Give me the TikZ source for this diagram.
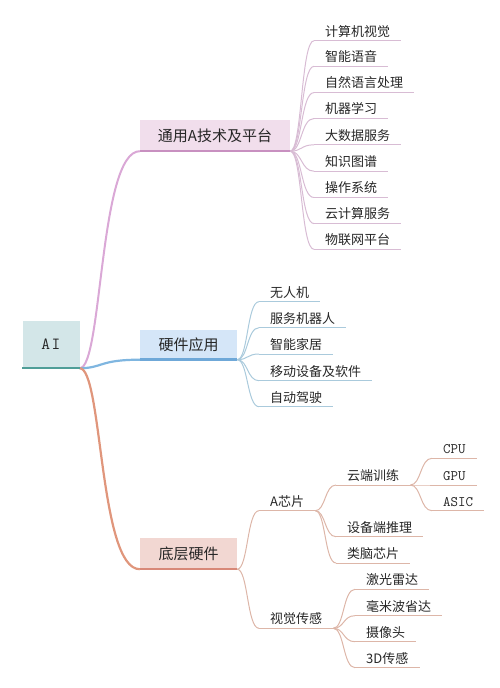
\documentclass[tikz,border=0pt]{standalone}
\usepackage{fontspec}
\newfontfamily\cjk{Noto Sans CJK SC}
\usetikzlibrary{calc}
\definecolor{txt}{HTML}{262626}
\definecolor{aifill}{HTML}{D3E6E8}
\definecolor{ailine}{HTML}{4F9E98}
\definecolor{pfill}{HTML}{F1DEEC}
\definecolor{pline}{HTML}{C890C0}
\definecolor{pmain}{HTML}{DAA8D6}
\definecolor{pleaf}{HTML}{D8BCD4}
\definecolor{bfill}{HTML}{D5E6F8}
\definecolor{bline}{HTML}{6FA8D8}
\definecolor{bmain}{HTML}{7FB6E0}
\definecolor{bleaf}{HTML}{AACADC}
\definecolor{sfill}{HTML}{F2D7D2}
\definecolor{sline}{HTML}{D88878}
\definecolor{smain}{HTML}{E0967C}
\definecolor{sleaf}{HTML}{DDB6A8}
\tikzset{
  leaf/.style={anchor=south west, inner xsep=11pt, inner ysep=0pt,
    text height=10pt, text depth=4.5pt, text=txt,
    font=\cjk\fontsize{13}{13}\selectfont},
  monoleaf/.style={leaf, font=\ttfamily\fontsize{14.5}{14.5}\selectfont},
  branch/.style={inner sep=0pt, text=txt, font=\cjk\fontsize{15}{15}\selectfont},
  fancurve/.style={to path={let \p1=(\tikztostart), \p2=(\tikztotarget) in
    (\p1) .. controls ({\x1+0.5*(\x2-\x1)},\y1) and ({\x1+0.45*(\x2-\x1)},\y2) .. (\p2)}},
  maincurve/.style={to path={let \p1=(\tikztostart), \p2=(\tikztotarget) in
    (\p1) .. controls ({\x1+0.38*(\x2-\x1)},\y1) and ({\x1+0.32*(\x2-\x1)},\y2) .. (\p2)}},
}
\begin{document}
\begin{tikzpicture}[x=1pt,y=-1pt]
\useasboundingbox (0,0) rectangle (500,688);
% root
\node[inner sep=0pt, fill=aifill, minimum width=57pt, minimum height=47pt, text=txt,
  font=\ttfamily\fontsize{17}{17}\selectfont] (ai) at (51,344.5) {A\hspace{1.5pt}I};
% branches
\node[branch, fill=pfill, minimum width=150pt, minimum height=31pt] (b1) at (215,135.5) {通用A技术及平台};
\node[branch, fill=bfill, minimum width=97pt, minimum height=30pt] (b2) at (188.5,344.5) {硬件应用};
\node[branch, fill=sfill, minimum width=97pt, minimum height=31pt] (b3) at (188.5,553.5) {底层硬件};
% main curves
\draw[pmain, line width=2pt] (ai.south east) to[maincurve] (b1.south west);
\draw[bmain, line width=2.2pt] (ai.south east) to[maincurve] (b2.south west);
\draw[smain, line width=2.2pt] (ai.south east) to[maincurve] (b3.south west);
\draw[ailine, line width=2.5pt] (ai.south west) -- (ai.south east);
\draw[pline, line width=2.5pt] (b1.south west) -- (b1.south east);
\draw[bline, line width=2.5pt] (b2.south west) -- (b2.south east);
\draw[sline, line width=2.5pt] (b3.south west) -- (b3.south east);
% branch 1 leaves
\node[leaf] (p1) at (314,40.7) {计算机视觉};
\node[leaf] (p2) at (314,66.3) {智能语音};
\node[leaf] (p3) at (314,92.6) {自然语言处理};
\node[leaf] (p4) at (314,118.5) {机器学习};
\node[leaf] (p5) at (314,144.8) {大数据服务};
\node[leaf] (p6) at (314,171.2) {知识图谱};
\node[leaf] (p7) at (314,197.5) {操作系统};
\node[leaf] (p8) at (314,223.6) {云计算服务};
\node[leaf] (p9) at (314,249.3) {物联网平台};
\foreach \k in {p1,p2,p3,p4,p5,p6,p7,p8,p9}{
  \draw[pleaf, line width=1pt] (b1.south east) to[fancurve] (\k.south west);
  \draw[pleaf, line width=1pt] (\k.south west) -- (\k.south east);
}
% branch 2 leaves
\node[leaf] (q1) at (259,301.7) {无人机};
\node[leaf] (q2) at (259,327.7) {服务机器人};
\node[leaf] (q3) at (259,354) {智能家居};
\node[leaf] (q4) at (259,380.7) {移动设备及软件};
\node[leaf] (q5) at (259,406.7) {自动驾驶};
\foreach \k in {q1,q2,q3,q4,q5}{
  \draw[bleaf, line width=1pt] (b2.south east) to[fancurve] (\k.south west);
  \draw[bleaf, line width=1pt] (\k.south west) -- (\k.south east);
}
% branch 3
\node[leaf] (c1) at (259,510.7) {A芯片};
\node[leaf] (c2) at (259,628.3) {视觉传感};
\node[leaf] (d1) at (336,485) {云端训练};
\node[leaf] (d2) at (336,536.7) {设备端推理};
\node[leaf] (d3) at (336,563) {类脑芯片};
\node[monoleaf] (e1) at (432,458.3) {CPU};
\node[monoleaf] (e2) at (432,485) {GPU};
\node[monoleaf] (e3) at (432,510.7) {ASIC};
\node[leaf] (f1) at (355,589.3) {激光雷达};
\node[leaf] (f2) at (355,615.7) {毫米波省达};
\node[leaf] (f3) at (355,641.7) {摄像头};
\node[leaf] (f4) at (355,667.7) {3D传感};
\foreach \pa/\k in {b3/c1,b3/c2,c1/d1,c1/d2,c1/d3,d1/e1,d1/e2,d1/e3,c2/f1,c2/f2,c2/f3,c2/f4}{
  \draw[sleaf, line width=1pt] (\pa.south east) to[fancurve] (\k.south west);
}
\foreach \k in {c1,c2,d1,d2,d3,e1,e2,e3,f1,f2,f3,f4}{
  \draw[sleaf, line width=1pt] (\k.south west) -- (\k.south east);
}
\end{tikzpicture}
\end{document}
